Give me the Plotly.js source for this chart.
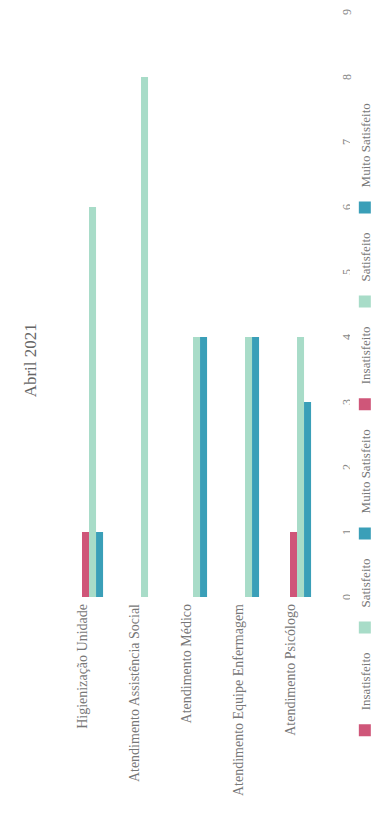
<!DOCTYPE html>
<html>
<head>
<meta charset="utf-8">
<script src="https://cdn.plot.ly/plotly-3.0.1.min.js"></script>
<style>
  html, body { margin: 0; padding: 0; background: #ffffff; overflow: hidden; }
  #wrap { position: relative; width: 379px; height: 832px; }
  /* the chart is laid out landscape and turned a quarter turn to stand upright */
  #chart {
    position: absolute; left: 0; top: 0;
    width: 832px; height: 379px;
    transform-origin: 0 0;
    transform: translateY(832px) rotate(-90deg);
  }
</style>
</head>
<body>
<div id="wrap"><div id="chart"></div></div>
<script>
// Survey categories
const categorias = [
  'Higienização Unidade',
  'Atendimento Assistência Social',
  'Atendimento Médico',
  'Atendimento Equipe Enfermagem',
  'Atendimento Psicólogo'
];

// First set of series (no answers recorded)
const insatisfeitoA = [0, 0, 0, 0, 0];
const satisfeitoA = [0, 0, 0, 0, 0];
const muitoSatisfeitoA = [0, 0, 0, 0, 0];

// Second set of series: answers per category
const insatisfeitoB = [1, 0, 0, 0, 1];
const satisfeitoB = [6, 8, 4, 4, 4];
const muitoSatisfeitoB = [1, 0, 4, 4, 3];

const nomes = ['Insatisfeito', 'Satisfeito', 'Muito Satisfeito'];
const cores = ['#cf5679', '#a8dcc8', '#3a9fb8'];
const valoresEixo = [0, 1, 2, 3, 4, 5, 6, 7, 8, 9];

const series = [insatisfeitoA, satisfeitoA, muitoSatisfeitoA,
                insatisfeitoB, satisfeitoB, muitoSatisfeitoB];

const traces = series.map((vals, i) => ({
  type: 'bar',
  orientation: 'h',
  name: nomes[i % 3],
  y: categorias,
  x: vals,
  marker: { color: cores[i % 3], line: { width: 0 } },
  hoverinfo: 'x+y+name'
}));

const FONT = 'Liberation Serif, Times New Roman, serif';

const layout = {
  width: 832,
  height: 379,
  margin: { l: 235, r: 12, t: 56, b: 63, autoexpand: false },
  paper_bgcolor: '#ffffff',
  plot_bgcolor: '#ffffff',
  font: { family: FONT, color: '#666666', size: 12 },
  title: {
    text: 'Abril 2021',
    font: { family: FONT, size: 17, color: '#666666' },
    x: 0.567, xref: 'container', xanchor: 'center',
    y: 0.92, yref: 'container', yanchor: 'middle'
  },
  barmode: 'group',
  bargap: 0.19,
  bargroupgap: 0,
  showlegend: true,
  legend: {
    orientation: 'h',
    traceorder: 'normal',
    xref: 'paper', yref: 'paper',
    x: -0.262, xanchor: 'left',
    y: -0.188, yanchor: 'middle',
    font: { family: FONT, size: 13, color: '#777777' },
    itemwidth: 30
  },
  xaxis: {
    range: [0, 9],
    tickvals: valoresEixo,
    ticktext: valoresEixo.map(String),
    showgrid: false,
    zeroline: false,
    showline: false,
    ticks: '',
    automargin: false,
    ticklabelstandoff: 22,
    tickfont: { family: FONT, size: 12, color: '#888888' }
  },
  yaxis: {
    autorange: 'reversed',
    type: 'category',
    showgrid: false,
    zeroline: false,
    showline: false,
    ticks: '',
    automargin: false,
    ticklabelstandoff: 6,
    tickfont: { family: FONT, size: 14, color: '#777777' }
  }
};

Plotly.newPlot('chart', traces, layout, { displayModeBar: false, staticPlot: true });
</script>
</body>
</html>
